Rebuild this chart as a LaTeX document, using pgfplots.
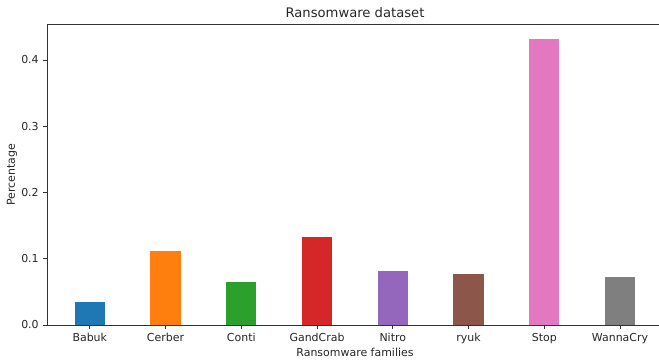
\documentclass[border=0pt]{standalone}
\usepackage{pgfplots}
\pgfplotsset{compat=1.18}
\usepackage{fontspec}
\setmainfont{DejaVu Sans}
\definecolor{tabblue}{HTML}{1F77B4}
\definecolor{taborange}{HTML}{FF7F0E}
\definecolor{tabgreen}{HTML}{2CA02C}
\definecolor{tabred}{HTML}{D62728}
\definecolor{tabpurple}{HTML}{9467BD}
\definecolor{tabbrown}{HTML}{8C564B}
\definecolor{tabpink}{HTML}{E377C2}
\definecolor{tabgray}{HTML}{7F7F7F}
\begin{document}
\begin{tikzpicture}
\begin{axis}[
  name=ax,
  scale only axis,
  width=612bp, height=300.5bp,
  xmin=-0.565, xmax=7.515,
  ymin=0, ymax=0.4535,
  axis x line*=box,
  axis y line*=left,
  axis line style={line width=0.9bp, black!80},
  xtick={0,1,2,3,4,5,6,7},
  xticklabels={Babuk,Cerber,Conti,GandCrab,Nitro,ryuk,Stop,WannaCry},
  ytick={0,0.1,0.2,0.3,0.4},
  xtick pos=lower, ytick pos=left,
  tick align=outside,
  major tick length=3.8bp,
  tick style={line width=0.9bp, black!80},
  /pgf/number format/assume math mode=true,
  ticklabel style={font=\fontsize{11}{13}\selectfont, text=black!85},
  xticklabel style={yshift=-1bp},
  yticklabel style={xshift=-1bp, /pgf/number format/.cd, fixed, fixed zerofill, precision=1},
  xlabel={Ransomware families},
  ylabel={Percentage},
  label style={font=\fontsize{11}{13}\selectfont, text=black!85},
  title={Ransomware dataset},
  every axis title shift=0pt,
  title style={font=\fontsize{13.2}{15}\selectfont, text=black!85,
    at={(axis description cs:0.5,1)}, anchor=center, yshift=11.5bp, xshift=2bp},
  xlabel style={at={(axis description cs:0.5,0)}, anchor=center, yshift=-27bp, xshift=2bp},
  ylabel style={at={(axis description cs:0,0.5)}, anchor=center, yshift=35bp},
  ybar, bar shift=0pt, bar width=0.4,
]
\addplot[fill=tabblue, draw=none] coordinates {(0,0.0343)};
\addplot[fill=taborange, draw=none] coordinates {(1,0.111)};
\addplot[fill=tabgreen, draw=none] coordinates {(2,0.0655)};
\addplot[fill=tabred, draw=none] coordinates {(3,0.1325)};
\addplot[fill=tabpurple, draw=none] coordinates {(4,0.082)};
\addplot[fill=tabbrown, draw=none] coordinates {(5,0.077)};
\addplot[fill=tabpink, draw=none] coordinates {(6,0.4315)};
\addplot[fill=tabgray, draw=none] coordinates {(7,0.072)};
\end{axis}
\pgfresetboundingbox
\useasboundingbox ([xshift=-47bp,yshift=-36bp]ax.south west) rectangle ([yshift=24.5bp]ax.north east);
\end{tikzpicture}
\end{document}
